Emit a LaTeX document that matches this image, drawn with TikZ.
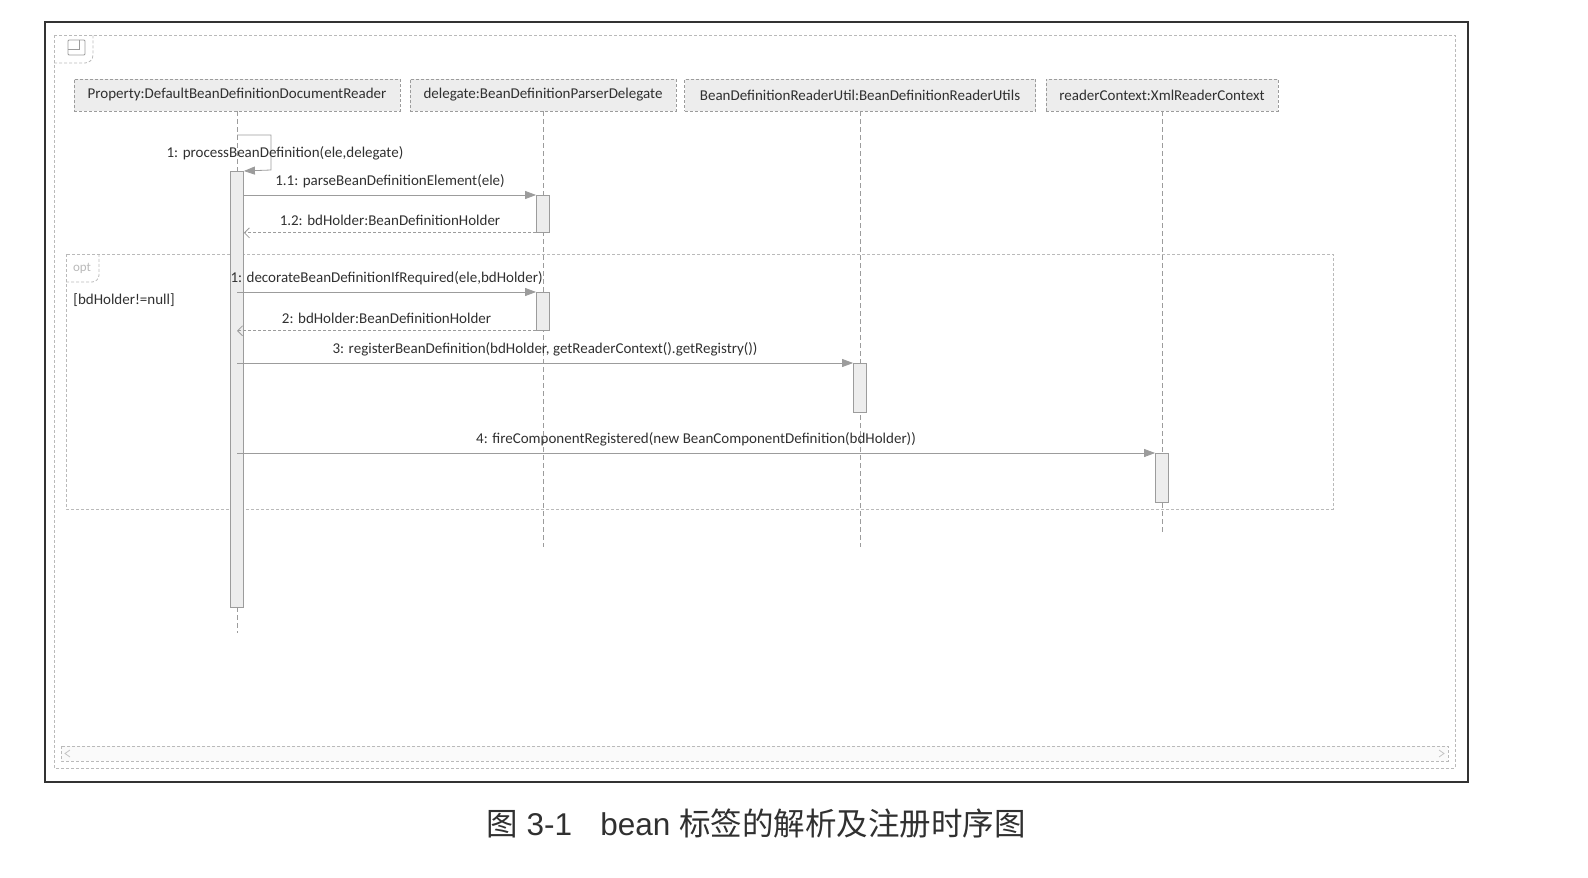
\documentclass[tikz,border=0pt]{standalone}
\usepackage{fontspec}
\setmainfont{Carlito}
\newfontfamily\capfont{Liberation Sans}
\newfontfamily\cjk{Noto Sans CJK SC}
\usetikzlibrary{arrows.meta}
\definecolor{linegray}{HTML}{9C9C9C}
\definecolor{boxfill}{HTML}{EDEDED}
\definecolor{txtgray}{HTML}{303030}
\tikzset{
	head/.style={draw=linegray, dash pattern=on 3pt off 2pt, fill=boxfill, minimum height=32pt, inner sep=0pt, font=\fontsize{15}{18}\selectfont, text=txtgray},
	act/.style={draw=linegray, fill=boxfill, minimum width=13pt, inner sep=0pt, anchor=north},
	life/.style={linegray, dash pattern=on 5pt off 3pt},
	msg/.style={linegray, -{Triangle[length=11pt, width=8pt]}},
	ret/.style={linegray, dash pattern=on 3pt off 2pt, -{Straight Barb[length=5pt, width=10pt]}},
	lbl/.style={font=\fontsize{15}{18}\selectfont, text=txtgray, inner sep=0pt, above=6.5pt},
}
\begin{document}
\begin{tikzpicture}[x=1pt, y=-1pt, line width=0.8pt]
	\useasboundingbox (0,0) rectangle (1588,878);
	\draw[black!80, line width=2pt] (45,22) rectangle (1468,782);
	\draw[linegray!70, dash pattern=on 3pt off 2pt] (54,35) rectangle (1455,768);
	\draw[linegray!70, dash pattern=on 3pt off 2pt] (54,63) -- (85,63) to[out=0, in=-90] (93,55) -- (93,35);
	\draw[linegray, rounded corners=1pt] (68,40) rectangle (85,55);
	\draw[linegray] (68,49) -- (79,49) -- (79,40);
	\draw[linegray!70, dash pattern=on 3pt off 2pt, fill=gray!4] (61,746) rectangle (1448,761);
	\draw[linegray!60] (70,750) -- (65,753.5) -- (70,757);
	\draw[linegray!60] (1439,750) -- (1444,753.5) -- (1439,757);
	\node[head, minimum width=326pt] (h1) at (237,95) {Property:DefaultBeanDefinitionDocumentReader};
	\node[head, minimum width=266pt] (h2) at (543,95) {delegate:BeanDefinitionParserDelegate};
	\node[head, minimum width=351pt] (h3) at (860,95) {BeanDefinitionReaderUtil:BeanDefinitionReaderUtils};
	\node[head, minimum width=232pt] (h4) at (1162,95) {readerContext:XmlReaderContext};
	\coordinate (e1) at (237,633);
	\coordinate (e2) at (543,547);
	\coordinate (e3) at (860,547);
	\coordinate (e4) at (1162,532);
	\foreach \i in {1,...,4}
	\draw[life] (h\i.south) -- (e\i);
	\draw[linegray!70, dash pattern=on 3pt off 2pt] (66,254) rectangle (1333,509);
	\draw[linegray!70, dash pattern=on 3pt off 2pt] (66,282) -- (92,282) to[out=0, in=-90] (99,275) -- (99,254);
	\node[font=\fontsize{13}{15}\selectfont, text=gray!55] (opt) at (82,268) {opt};
	\node[font=\fontsize{15}{18}\selectfont, text=txtgray, anchor=west, inner sep=0pt] (guard) at (73,300) {[bdHolder!=null]};
	\node[act, minimum height=436pt] (a1) at (237,171) {};
	\node[act, minimum height=37pt] (a2) at (543,195) {};
	\node[act, minimum height=38pt] (a3) at (543,292) {};
	\node[act, minimum height=49pt] (a4) at (860,363) {};
	\node[act, minimum height=49pt] (a5) at (1162,453) {};
	\coordinate (s1) at (237,135);
	\coordinate (s2) at (271,170);
	\draw[msg] (s1) -| (s2) -- (a1.north east);
	\node[font=\fontsize{15}{18}\selectfont, text=txtgray, inner sep=0pt] (t0) at (285,153) {1: processBeanDefinition(ele,delegate)};
	\draw[msg] (a1.east |- a2.north) -- (a2.north west) node[midway, lbl] (t1) {1.1: parseBeanDefinitionElement(ele)};
	\draw[ret] (a2.south west) -- (a1.east |- a2.south) node[midway, lbl] (t2) {1.2: bdHolder:BeanDefinitionHolder};
	\draw[msg] (a1.center |- a3.north) -- (a3.north west) node[midway, lbl] (t3) {1: decorateBeanDefinitionIfRequired(ele,bdHolder)};
	\draw[ret] (a3.south west) -- (a1.center |- a3.south) node[midway, lbl] (t4) {2: bdHolder:BeanDefinitionHolder};
	\draw[msg] (a1.center |- a4.north) -- (a4.north west) node[midway, lbl] (t5) {3: registerBeanDefinition(bdHolder, getReaderContext().getRegistry())};
	\draw[msg] (a1.center |- a5.north) -- (a5.north west) node[midway, lbl] (t6) {4: fireComponentRegistered(new BeanComponentDefinition(bdHolder))};
	\node[text=txtgray, font=\fontsize{31.5}{37}\selectfont] (cap) at (756,824) {\cjk 图\capfont{} 3-1\hspace{0.9em}bean \cjk 标签的解析及注册时序图};
\end{tikzpicture}
\end{document}
